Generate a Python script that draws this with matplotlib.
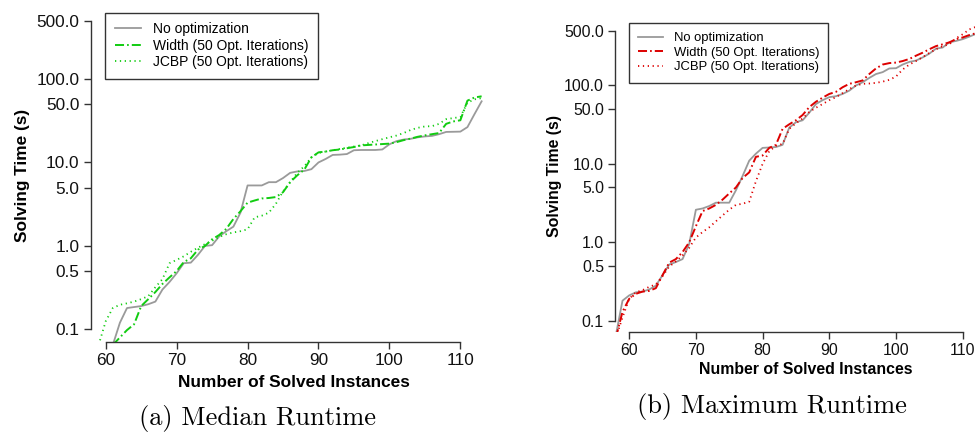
import matplotlib
matplotlib.use("Agg")
import matplotlib.pyplot as plt
import numpy as np

plt.rcParams['font.family'] = ['Liberation Sans', 'DejaVu Sans']
plt.rcParams['lines.scale_dashes'] = False

# ── data ─────────────────────────────────────────────────────────────────────
LABELS = ["No optimization", "Width (50 Opt. Iterations)", "JCBP (50 Opt. Iterations)"]

# (a) median runtime
med_none_n = np.arange(61, 114)
med_none = [0.065, 0.12, 0.18, 0.185, 0.19, 0.2, 0.215, 0.3, 0.37, 0.47,
            0.62, 0.63, 0.78, 1.0, 1.02, 1.3, 1.5, 1.7, 2.5, 5.3,
            5.3, 5.3, 5.8, 5.8, 6.5, 7.5, 7.8, 7.9, 8.3, 10.0,
            11.0, 12.3, 12.4, 12.6, 14.0, 14.1, 14.1, 14.1, 14.3, 16.5,
            18.0, 18.8, 19.2, 20.0, 20.5, 20.8, 21.8, 23.2, 23.3, 23.4,
            26.5, 38.0, 54.0]
med_width_n = np.arange(61, 114)
med_width = [0.065, 0.08, 0.098, 0.115, 0.19, 0.23, 0.28, 0.35, 0.42, 0.5,
             0.64, 0.71, 0.9, 1.0, 1.2, 1.35, 1.6, 2.1, 2.6, 3.3,
             3.5, 3.7, 3.75, 3.85, 4.4, 5.8, 7.0, 8.2, 11.5, 13.2,
             13.5, 14.0, 14.3, 14.8, 15.3, 16.0, 16.2, 16.4, 16.6, 16.8,
             17.5, 18.5, 19.3, 20.3, 21.1, 21.8, 22.5, 29.0, 31.0, 32.0,
             55.0, 60.0, 62.0]
med_jcbp_n = np.arange(59, 114)
med_jcbp = [0.065, 0.125, 0.18, 0.197, 0.205, 0.215, 0.23, 0.25, 0.32, 0.4,
            0.62, 0.68, 0.75, 0.85, 0.95, 1.05, 1.15, 1.28, 1.38, 1.45,
            1.5, 1.58, 2.2, 2.3, 2.5, 3.2, 4.5, 5.8, 7.5, 9.0,
            11.5, 13.0, 13.5, 14.0, 14.5, 15.0, 15.5, 16.0, 17.0, 18.0,
            19.0, 20.0, 21.0, 22.5, 24.5, 26.0, 27.0, 27.2, 29.0, 33.0,
            34.0, 35.0, 52.0, 57.0, 59.0]

# (b) maximum runtime
max_none_n = np.arange(58, 114)
max_none = [0.065, 0.18, 0.21, 0.23, 0.235, 0.25, 0.28, 0.38, 0.52, 0.56,
            0.61, 0.95, 2.6, 2.7, 2.9, 3.2, 3.2, 3.2, 4.6, 7.0,
            11.0, 13.5, 16.0, 16.2, 16.4, 17.5, 29.0, 34.0, 36.0, 45.0,
            58.0, 65.0, 71.0, 73.0, 78.0, 86.0, 100.0, 110.0, 125.0, 140.0,
            148.0, 165.0, 166.0, 185.0, 200.0, 208.0, 228.0, 255.0, 295.0, 305.0,
            355.0, 370.0, 390.0, 420.0, 455.0, 500.0]
max_width_n = np.arange(58, 114)
max_width = [0.06, 0.13, 0.19, 0.22, 0.235, 0.24, 0.26, 0.38, 0.55, 0.61,
             0.75, 1.0, 1.6, 2.5, 2.7, 3.0, 3.5, 4.2, 5.0, 6.6,
             7.8, 12.3, 12.8, 16.0, 17.5, 28.0, 32.0, 36.0, 42.0, 53.0,
             62.0, 70.0, 78.0, 83.0, 95.0, 105.0, 110.0, 116.0, 140.0, 165.0,
             185.0, 193.0, 196.0, 205.0, 218.0, 240.0, 262.0, 290.0, 318.0, 335.0,
             355.0, 390.0, 410.0, 440.0, 465.0, 480.0]
max_jcbp_n = np.arange(58, 113)
max_jcbp = [0.06, 0.11, 0.19, 0.23, 0.245, 0.27, 0.29, 0.37, 0.49, 0.57,
            0.68, 0.85, 1.15, 1.35, 1.55, 1.85, 2.2, 2.6, 3.0, 3.1,
            3.3, 6.0, 10.0, 14.5, 17.0, 18.0, 28.0, 33.0, 38.0, 46.0,
            52.0, 58.0, 65.0, 71.0, 80.0, 90.0, 100.0, 105.0, 106.0, 108.0,
            112.0, 118.0, 130.0, 160.0, 185.0, 205.0, 230.0, 260.0, 290.0, 318.0,
            335.0, 400.0, 450.0, 520.0, 560.0]

YTICKS = [0.1, 0.5, 1.0, 5.0, 10.0, 50.0, 100.0, 500.0]
XTICKS = [60, 70, 80, 90, 100, 110]

# ── figure ───────────────────────────────────────────────────────────────────
fig = plt.figure(figsize=(9.75, 4.32), dpi=100)
ax_a = fig.add_axes([0.0930, 0.2090, 0.4164, 0.7718])
ax_b = fig.add_axes([0.6308, 0.2308, 0.3916, 0.7250])

GREY = "#9a9a9a"
DASHDOT = (0, (6.5, 2.2, 1.2, 2.2))
DOTTED = (0, (0.9, 2.6))


def draw_panel(ax, series, color, fs, leg_fs, xpad, ypad):
    (n0, v0), (n1, v1), (n2, v2) = series
    ax.plot(n0, v0, color=GREY, lw=1.3, label=LABELS[0])
    ax.plot(n1, v1, color=color, lw=1.4, ls=DASHDOT, label=LABELS[1])
    ax.plot(n2, v2, color=color, lw=1.3, ls=DOTTED, label=LABELS[2])
    ax.set_yscale("log")
    ax.set_xlim(57.88, 115.12)
    ax.set_ylim(0.0711, 703)
    ax.set_yticks(YTICKS)
    ax.set_yticklabels([f"{t:.1f}" for t in YTICKS])
    ax.minorticks_off()
    ax.set_xticks(XTICKS)
    for s in ("top", "right"):
        ax.spines[s].set_visible(False)
    ax.spines["left"].set_bounds(0.1, 500)
    ax.spines["bottom"].set_bounds(60, 110)
    for s in ("left", "bottom"):
        ax.spines[s].set_color("#333333")
        ax.spines[s].set_linewidth(1.0)
    ax.tick_params(length=5, width=1.0, color="#333333", labelsize=fs,
                   labelcolor="#111111", pad=3)
    ax.set_xlabel("Number of Solved Instances", fontweight="bold",
                  fontsize=fs, labelpad=xpad)
    ax.set_ylabel("Solving Time (s)", fontweight="bold", fontsize=fs,
                  labelpad=ypad)
    leg = ax.legend(loc="upper left", bbox_to_anchor=(0.036, 0.987),
                    fontsize=leg_fs, frameon=True, fancybox=False,
                    edgecolor="black", handlelength=1.9, handletextpad=0.85,
                    labelspacing=0.18, borderpad=0.7, borderaxespad=0)
    leg.get_frame().set_linewidth(1.0)
    return ax


draw_panel(ax_a, [(med_none_n, med_none), (med_width_n, med_width),
                  (med_jcbp_n, med_jcbp)], "#11cc11", 12.4, 10, 5, 4.5)
draw_panel(ax_b, [(max_none_n, max_none), (max_width_n, max_width),
                  (max_jcbp_n, max_jcbp)], "#dd0000", 11.4, 9.4, 2.5, 1.5)

fig.text(0.2636, 1 - 418 / 432, "(a) Median Runtime", family="cmr10",
         fontsize=19, ha="center", va="center")
fig.text(0.7918, 1 - 407 / 432, "(b) Maximum Runtime", family="cmr10",
         fontsize=19, ha="center", va="center")

fig.savefig("out.png", dpi=100)
